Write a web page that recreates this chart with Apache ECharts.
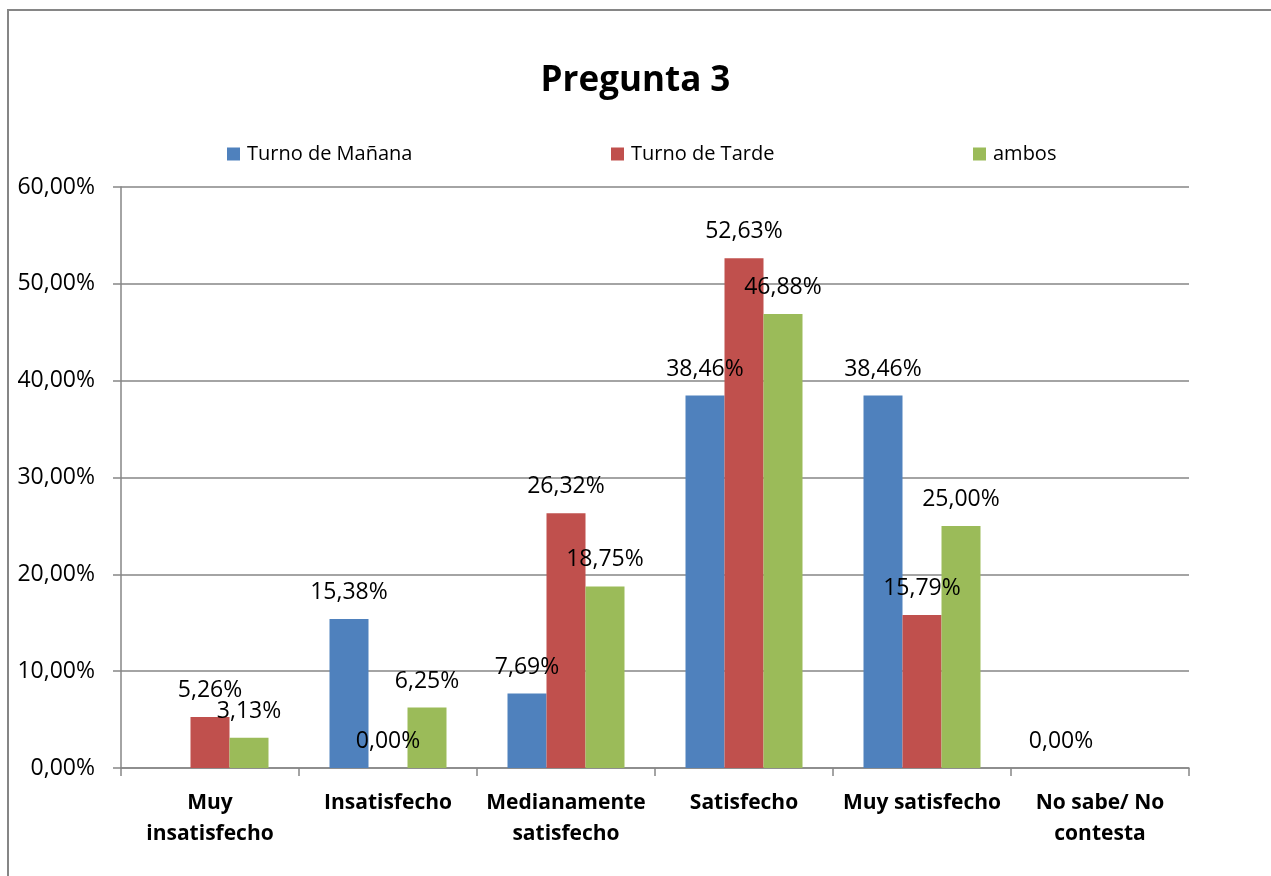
<!DOCTYPE html>
<html>
<head>
<meta charset="utf-8">
<title>Pregunta 3</title>
<script src="https://cdn.jsdelivr.net/npm/echarts@6/dist/echarts.min.js"></script>
<style>
  html, body { margin: 0; padding: 0; background: #fff; }
  #chart { width: 1271px; height: 876px; }
</style>
</head>
<body>
<div id="chart"></div>
<script>
// categorias del eje x
var categorias = ['Muy\ninsatisfecho', 'Insatisfecho', 'Medianamente\nsatisfecho', 'Satisfecho', 'Muy satisfecho', 'No sabe/ No\ncontesta']
// valores en % (null = sin barra ni etiqueta)
var manana = [null, 15.38, 7.69, 38.46, 38.46, 0]
var tarde = [5.26, 0, 26.32, 52.63, 15.79, null]
var ambos = [3.13, 6.25, 18.75, 46.88, 25.00, null]
var seriesNames = ['Turno de Mañana', 'Turno de Tarde', 'ambos']
var colores = ['#4F81BD', '#C0504D', '#9BBB59']

var FONT = 'Open Sans'
var GRIS = '#868686'

function pct (v) {
  return v.toFixed(2).replace('.', ',') + '%'
}

var myChart = echarts.init(document.getElementById('chart'))

function serie (i, data) {
  return {
    name: seriesNames[i],
    type: 'bar',
    data: data,
    barWidth: 39,
    barGap: 0,
    itemStyle: { color: colores[i] },
    label: {
      show: true,
      position: 'top',
      distance: 15,
      color: '#000',
      fontFamily: FONT,
      fontSize: 23,
      formatter: function (p) { return pct(p.value) }
    }
  }
}

function leyenda (i, left) {
  return {
    data: [seriesNames[i]],
    left: left,
    top: 139,
    icon: 'rect',
    itemWidth: 13,
    itemHeight: 13,
    itemGap: 6,
    textStyle: { fontFamily: FONT, fontSize: 20, color: '#000', padding: [0, 0, 0, 2] }
  }
}

var option = {
  backgroundColor: '#fff',
  animation: false,
  title: {
    text: 'Pregunta 3',
    left: 'center',
    top: 59,
    textStyle: { fontFamily: FONT, fontWeight: 'bold', fontSize: 35, color: '#000' }
  },
  legend: [leyenda(0, 222), leyenda(1, 606), leyenda(2, 968)],
  graphic: [{
    type: 'rect',
    shape: { x: 8, y: 10, width: 1400, height: 1000 },
    style: { fill: 'none', stroke: GRIS, lineWidth: 2 },
    silent: true
  }],
  grid: { left: 121, right: 82, top: 187, bottom: 108 },
  xAxis: {
    type: 'category',
    data: categorias,
    axisLine: { lineStyle: { color: GRIS, width: 1.5 } },
    axisTick: { show: true, length: 8, interval: 0, alignWithLabel: false, lineStyle: { color: GRIS, width: 1.5 } },
    axisLabel: {
      interval: 0,
      margin: 20,
      fontFamily: FONT,
      fontWeight: 'bold',
      fontSize: 21,
      lineHeight: 31,
      color: '#000'
    }
  },
  yAxis: {
    type: 'value',
    min: 0,
    max: 60,
    interval: 10,
    axisLine: { show: true, lineStyle: { color: GRIS, width: 1.5 } },
    axisTick: { show: true, length: 8, lineStyle: { color: GRIS, width: 1.5 } },
    splitLine: { lineStyle: { color: GRIS, width: 1.5 } },
    axisLabel: {
      margin: 26,
      fontFamily: FONT,
      fontSize: 23,
      color: '#000',
      formatter: function (v) { return pct(v) }
    }
  },
  series: [serie(0, manana), serie(1, tarde), serie(2, ambos)]
}

myChart.setOption(option, true)
</script>
</body>
</html>
